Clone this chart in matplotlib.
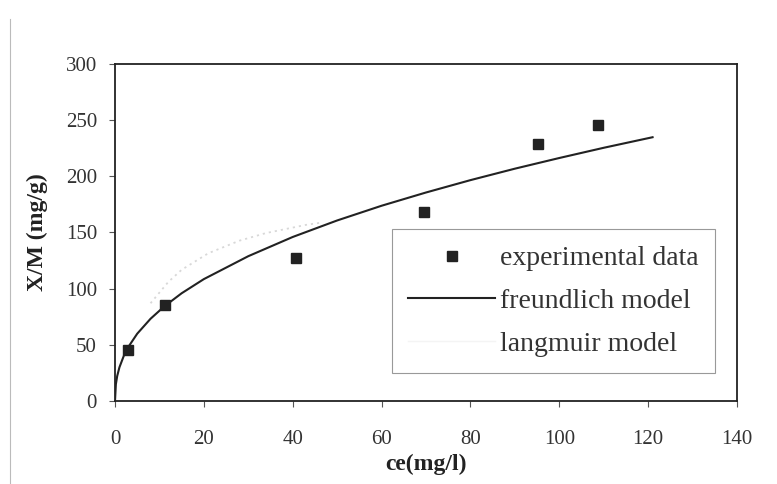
import matplotlib.pyplot as plt
from matplotlib.lines import Line2D

# experimental isotherm points
ce_exp = [2.9, 11.3, 40.7, 69.5, 95.2, 108.8]
xm_exp = [45, 85.5, 127, 168, 229, 246]

# freundlich fit curve
ce_fr = [0, 0.2, 0.5, 1, 2, 3, 5, 8, 11, 15, 20, 30, 40, 50, 60, 70, 80, 90, 100, 110, 121]
xm_fr = [0, 15, 22.3, 30, 40.4, 48.1, 59.9, 73.2, 83.9, 95.9, 108.5, 128.9, 146, 160.7,
         173.8, 185.6, 196.6, 206.8, 216.3, 225.4, 234.8]

# langmuir fit curve (faint)
ce_la = [8, 12, 15, 21, 28, 34, 43, 46]
xm_la = [87, 106, 116.8, 131.5, 142.7, 149.5, 156.8, 158.5]

plt.rcParams["font.family"] = ["Liberation Serif", "DejaVu Serif"]

fig = plt.figure(figsize=(7.77, 4.84), dpi=100)
ax = fig.add_axes([0.148, 0.1715, 0.8005, 0.6963])

ax.plot(ce_la, xm_la, color="#d8d8d8", lw=1.3, ls=(0, (1.2, 2.2)),
        label="langmuir model", zorder=1)
ax.plot(ce_fr, xm_fr, color="#222222", lw=1.5, label="freundlich model", zorder=2)
ax.plot(ce_exp, xm_exp, ls="none", marker="s", ms=7, color="#222222",
        label="experimental data", zorder=3)

ax.set_xlim(0, 140)
ax.set_ylim(0, 300)
ax.set_xticks(range(0, 141, 20))
ax.set_yticks(range(0, 301, 50))
ax.tick_params(direction="out", length=4, width=0.8, colors="#555555",
               labelcolor="#333333", labelsize=15)
ax.tick_params(axis="x", pad=17)
ax.tick_params(axis="y", pad=9)
for s in ax.spines.values():
    s.set_linewidth(1.3)
    s.set_color("#222222")

ax.set_xlabel("ce(mg/l)", fontsize=17, fontweight="bold", color="#222222", labelpad=3)
ax.set_ylabel("X/M (mg/g)", fontsize=17, fontweight="bold", color="#222222", labelpad=13)

h, l = ax.get_legend_handles_labels()
h[0] = Line2D([], [], color="#f4f4f4", lw=1)
leg = ax.legend(h[::-1], l[::-1], loc="upper left", bbox_to_anchor=(0.445, 0.51),
                borderaxespad=0, fontsize=20, handlelength=3.1, handletextpad=0.2,
                labelspacing=0.62, fancybox=False, edgecolor="#999999",
                framealpha=1, borderpad=0.6)
leg.get_frame().set_linewidth(0.8)
for t in leg.get_texts():
    t.set_color("#333333")

# page edge from the scanned sheet
fig.add_artist(Line2D([0.013, 0.013], [0.0, 0.96], color="#bbbbbb", lw=0.8))

fig.savefig("out.png", dpi=100)
